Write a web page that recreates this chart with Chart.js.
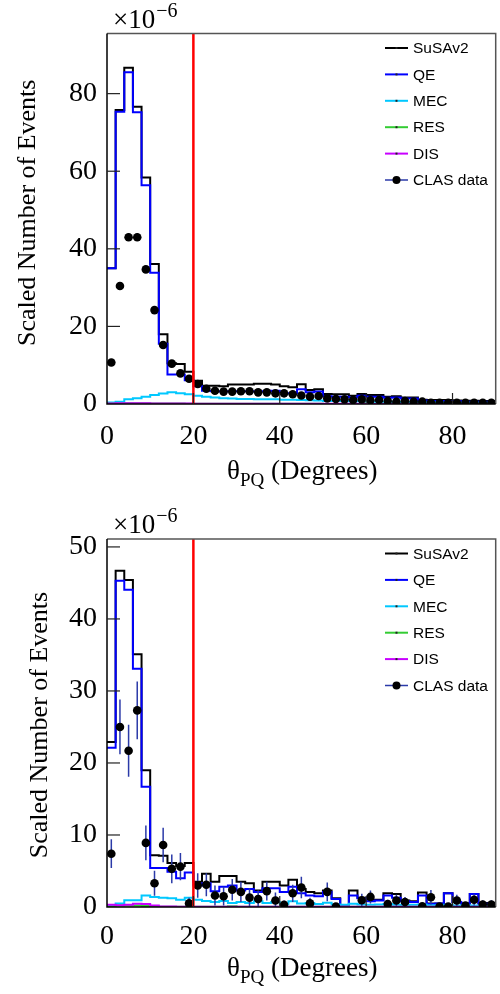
<!DOCTYPE html>
<html><head><meta charset="utf-8">
<script src="https://cdn.jsdelivr.net/npm/chart.js@4.4.1/dist/chart.umd.min.js"></script>
<style>
html,body{margin:0;padding:0;background:#fff;}
#wrap{position:relative;width:500px;height:994px;overflow:hidden;}
canvas{position:absolute;left:0;}
#c1{top:0;}
#c2{top:497px;}
</style></head><body>
<div id="wrap">
<canvas id="c1" width="500" height="497" style="width:500px;height:497px"></canvas>
<canvas id="c2" width="500" height="497" style="width:500px;height:497px"></canvas>
</div>
<script>
// ---- bins (theta_PQ, degrees) ----
const binEdges = [0,2,4,6,8,10,12,14,16,18,20,22,24,26,28,30,32,34,36,38,40,42,44,46,48,50,52,54,56,58,60,62,64,66,68,70,72,74,76,78,80,82,84,86,88,90];
const xTickLabels = [0,20,40,60,80];
const yTicksTop = [0,20,40,60,80];
const yTicksBottom = [0,10,20,30,40,50];
const cutTheta = 20;

// ---- top panel (x 1e-6) ----
const top_susav2 = [35.0,75.8,86.7,76.6,58.4,36.1,18.0,10.5,10.3,8.3,6.0,4.7,4.7,4.6,5.0,5.0,5.0,5.2,5.2,5.0,4.6,4.3,5.1,3.6,3.8,2.6,2.5,2.5,2.1,2.6,2.3,2.3,1.9,2.0,1.7,1.7,1.1,1.0,1.0,1.0,0.9,0.85,0.85,0.8,0.8];
const top_qe     = [35.0,75.3,85.5,75.2,56.4,33.8,15.5,7.6,7.6,6.1,4.6,3.4,3.3,3.2,3.3,3.3,3.3,3.2,3.3,3.4,2.8,2.8,3.8,3.0,3.2,2.0,1.9,1.9,1.7,2.1,1.9,1.9,1.6,1.7,1.4,1.4,0.9,0.8,0.8,0.8,0.7,0.6,0.6,0.6,0.6];
const top_mec    = [0.4,0.6,1.2,1.5,1.9,2.3,2.7,3.0,2.8,2.5,2.1,1.9,1.7,1.5,1.4,1.3,1.3,1.2,1.2,1.2,1.1,1.1,1.0,0.95,0.9,0.8,0.8,0.75,0.7,0.7,0.65,0.6,0.6,0.55,0.5,0.5,0.45,0.45,0.4,0.4,0.35,0.35,0.3,0.3,0.3];
const top_res    = [0.1,0.15,0.2,0.2,0.2,0.15,0.15,0.1,0.1,0.08,0.08,0.07,0.07,0.06,0.06,0.05,0.05,0.05,0.05,0.05,0.04,0.04,0.04,0.04,0.04,0.03,0.03,0.03,0.03,0.03,0.03,0.03,0.02,0.02,0.02,0.02,0.02,0.02,0.02,0.02,0.02,0.02,0.02,0.02,0.02];
const top_dis    = [0.15,0.2,0.2,0.2,0.2,0.15,0.15,0.1,0.1,0.1,0.08,0.08,0.07,0.07,0.06,0.06,0.06,0.05,0.05,0.05,0.05,0.05,0.05,0.04,0.04,0.04,0.04,0.04,0.04,0.03,0.03,0.03,0.03,0.03,0.03,0.03,0.03,0.03,0.02,0.02,0.02,0.02,0.02,0.02,0.02];
const top_data   = [10.7,30.4,43.0,43.0,34.7,24.2,15.2,10.4,7.9,6.5,5.15,3.95,3.4,3.2,3.2,3.3,3.3,3.0,3.0,2.75,2.75,2.5,2.2,1.9,2.06,1.46,1.3,1.2,1.03,1.2,0.95,1.03,0.77,0.6,0.77,0.6,0.6,0.34,0.34,0.34,0.34,0.32,0.32,0.3,0.3];
const top_dataErr= [0.6,0.9,1.0,1.0,0.9,0.8,0.6,0.5,0.45,0.4,0.35,0.3,0.3,0.3,0.3,0.3,0.3,0.3,0.3,0.3,0.3,0.25,0.25,0.25,0.25,0.2,0.2,0.2,0.2,0.2,0.2,0.2,0.2,0.15,0.15,0.15,0.15,0.15,0.15,0.15,0.15,0.15,0.15,0.15,0.15];

// ---- bottom panel (x 1e-6) ----
const bot_susav2 = [22.9,46.7,45.4,35.1,19.0,7.2,7.1,6.1,5.7,6.1,3.5,4.6,3.5,4.3,4.3,3.5,3.3,2.3,3.5,3.5,3.0,3.8,2.5,2.1,1.9,2.3,1.2,0.2,2.3,1.3,1.0,1.0,1.9,1.8,0.9,0.8,2.0,0.5,0.5,1.9,0.7,0.5,1.8,0.55,0.55];
const bot_qe     = [22.1,45.3,44.05,33.1,16.7,5.4,5.4,4.9,4.0,4.8,3.0,3.3,2.2,2.8,3.0,2.3,2.5,2.1,2.6,2.6,2.1,2.8,1.9,1.6,1.5,2.1,1.1,0.15,1.6,1.2,0.8,0.9,1.6,1.3,0.8,0.7,1.6,0.4,0.5,1.9,0.7,0.5,1.8,0.45,0.45];
const bot_mec    = [0.25,0.5,0.95,0.95,1.6,1.4,1.3,1.2,1.0,1.3,1.0,0.85,0.7,0.85,0.55,0.7,0.55,0.8,0.55,0.7,0.45,0.8,0.5,0.55,0.4,0.6,0.35,0.3,0.45,0.35,0.3,0.35,0.4,0.3,0.25,0.3,0.35,0.25,0.2,0.3,0.2,0.25,0.2,0.15,0.2];
const bot_res    = [0.05,0.2,0.2,0.2,0.15,0.1,0.05,0.05,0.03,0.03,0.03,0.03,0.03,0.03,0.12,0.03,0.03,0.02,0.02,0.02,0.02,0.02,0.02,0.02,0.02,0.02,0.02,0.02,0.02,0.02,0.02,0.02,0.02,0.02,0.02,0.02,0.02,0.02,0.02,0.02,0.02,0.02,0.02,0.02,0.02];
const bot_dis    = [0.3,0.25,0.3,0.45,0.4,0.2,0.08,0.06,0.05,0.05,0.05,0.05,0.05,0.05,0.05,0.05,0.04,0.04,0.04,0.04,0.04,0.04,0.04,0.04,0.04,0.03,0.03,0.03,0.03,0.03,0.03,0.03,0.03,0.03,0.03,0.03,0.03,0.03,0.03,0.03,0.03,0.03,0.03,0.03,0.03];
const bot_data   = [7.4,25.0,21.7,27.3,8.9,3.3,8.6,5.3,5.6,0.5,3.0,3.1,1.6,1.5,2.4,2.1,1.3,1.1,2.2,0.9,0.3,1.9,2.7,0.5,null,2.1,0.05,null,null,0.93,1.4,null,0.4,0.9,0.7,null,0.1,1.35,0.05,0.05,0.9,0.2,1.0,0.35,0.35];
const bot_dataErr= [2.0,3.8,3.6,4.0,2.4,1.75,2.4,2.0,1.9,0.8,1.7,1.6,1.4,1.3,1.5,1.4,1.3,1.2,1.3,1.1,0.6,1.2,1.5,0.8,0,1.3,0,0,0,0.9,0.9,0,0.6,0.8,0.7,0,0,1.0,0,0,0.8,0.5,0.8,0.6,0.6];

const COL = {susav2:'#000000', qe:'#0000ff', mec:'#00c8ff', res:'#33cc33', dis:'#c800ff', err:'#2b3aa8', cut:'#ff0000'};
const SERIF = '"Liberation Serif", "Times New Roman", serif';
const SANS = '"Liberation Sans", Arial, sans-serif';

function histPoints(vals){
  const pts = vals.map((v,i)=>({x:binEdges[i], y:v}));
  pts.push({x:binEdges[vals.length], y:vals[vals.length-1]});
  return pts;
}
function dataPoints(vals, errs){
  const pts=[];
  vals.forEach((v,i)=>{ if(v!==null) pts.push({x:(binEdges[i]+binEdges[i+1])/2, y:v, err:errs[i]}); });
  return pts;
}
function histDS(label, vals, color, order, width){
  return {type:'line', label, data:histPoints(vals), borderColor:color, backgroundColor:color,
          borderWidth:width, stepped:'before', pointRadius:0, fill:false, order, tension:0};
}

const extrasPlugin = {
  id:'extras',
  beforeDatasetDraw(chart, args, opts){
    const ds = chart.data.datasets[args.index];
    if(!ds.isData) return;
    const ctx = chart.ctx, xs = chart.scales.x, ys = chart.scales.y, ca = chart.chartArea;
    ctx.save();
    ctx.beginPath(); ctx.rect(ca.left, ca.top, ca.right-ca.left, ca.bottom-ca.top); ctx.clip();
    ctx.strokeStyle = COL.err; ctx.lineWidth = 1.5;
    ds.data.forEach(p=>{
      if(!p.err) return;
      const px = xs.getPixelForValue(p.x);
      ctx.beginPath();
      ctx.moveTo(px, ys.getPixelForValue(p.y - p.err));
      ctx.lineTo(px, ys.getPixelForValue(p.y + p.err));
      ctx.stroke();
    });
    ctx.restore();
  },
  afterDraw(chart, args, opts){
    const ctx = chart.ctx, xs = chart.scales.x, ys = chart.scales.y, ca = chart.chartArea;
    ctx.save();
    // frame
    ctx.lineWidth = 1.5; ctx.strokeStyle = '#555';
    ctx.beginPath(); ctx.moveTo(ca.left, ca.top); ctx.lineTo(ca.right, ca.top); ctx.lineTo(ca.right, ca.bottom); ctx.stroke();
    ctx.strokeStyle = '#000';
    ctx.beginPath(); ctx.moveTo(ca.left, ca.top); ctx.lineTo(ca.left, ca.bottom); ctx.lineTo(ca.right, ca.bottom); ctx.stroke();
    // inner ticks
    ctx.lineWidth = 1.2; ctx.strokeStyle = '#222';
    ys.ticks.forEach(t=>{ if(t.value<=0) return; const py = ys.getPixelForValue(t.value);
      ctx.beginPath(); ctx.moveTo(ca.left, py); ctx.lineTo(ca.left+13, py); ctx.stroke(); });
    xs.ticks.forEach(t=>{ if(t.value<=0) return; const px = xs.getPixelForValue(t.value);
      ctx.beginPath(); ctx.moveTo(px, ca.bottom); ctx.lineTo(px, ca.bottom-11); ctx.stroke(); });

    // exponent label
    ctx.fillStyle = '#000'; ctx.textBaseline = 'alphabetic'; ctx.textAlign = 'left';
    ctx.font = '27px ' + SERIF;
    const ex = ca.left + 6, ey = ca.top - 6;
    ctx.fillText('\u00d710', ex, ey);
    const w10 = ctx.measureText('\u00d710').width;
    ctx.font = '20px ' + SERIF;
    ctx.fillText('\u22126', ex + w10 + 1, ey - 11);

    // y title
    ctx.save();
    ctx.font = '26px ' + SERIF;
    ctx.translate(opts.yTitleX, (ca.top+ca.bottom)/2 + opts.yTitleDy);
    ctx.rotate(-Math.PI/2);
    ctx.textAlign = 'center'; ctx.textBaseline = 'middle';
    ctx.fillText('Scaled Number of Events', 0, 0);
    ctx.restore();

    // x title: theta_PQ (Degrees)
    ctx.font = '27px ' + SERIF; ctx.textAlign='left'; ctx.textBaseline='alphabetic';
    const tb = opts.xTitleBase;
    let tx = 227;
    ctx.fillText('\u03b8', tx, tb); tx += ctx.measureText('\u03b8').width;
    ctx.font = '19px ' + SERIF;
    ctx.fillText('PQ', tx, tb + 7); tx += ctx.measureText('PQ').width;
    ctx.font = '27px ' + SERIF;
    ctx.fillText(' (Degrees)', tx, tb);

    // legend
    ctx.font = '15.5px ' + SANS; ctx.textBaseline = 'middle'; ctx.textAlign='left';
    const items = chart.data.datasets.filter(d=>d.inLegend).sort((a,b)=>a.legendIdx-b.legendIdx);
    items.forEach((d,i)=>{
      const y = ca.top + 14.5 + i*26.4;
      const x0 = 385, x1 = 408;
      ctx.lineWidth = d.isData ? 1.5 : 2;
      ctx.strokeStyle = d.isData ? COL.err : d.borderColor;
      ctx.beginPath(); ctx.moveTo(x0, y); ctx.lineTo(x1, y); ctx.stroke();
      if(d.isData){
        ctx.fillStyle='#000'; ctx.beginPath(); ctx.arc((x0+x1)/2, y, 4, 0, Math.PI*2); ctx.fill();
      } else {
        ctx.fillStyle='#222'; ctx.fillRect((x0+x1)/2-1, y-1, 2, 2);
      }
      ctx.fillStyle='#000';
      ctx.fillText(d.label, 413, y+1);
    });
    ctx.restore();
  }
};

function buildChart(canvasId, cfg){
  const datasets = [
    Object.assign(histDS('SuSAv2', cfg.susav2, COL.susav2, 7, 2), {inLegend:true, legendIdx:0}),
    Object.assign(histDS('QE', cfg.qe, COL.qe, 6, 2), {inLegend:true, legendIdx:1}),
    Object.assign(histDS('MEC', cfg.mec, COL.mec, 5, 2), {inLegend:true, legendIdx:2}),
    Object.assign(histDS('RES', cfg.res, COL.res, 4, 2), {inLegend:true, legendIdx:3}),
    Object.assign(histDS('DIS', cfg.dis, COL.dis, 3, 2), {inLegend:true, legendIdx:4}),
    {type:'scatter', label:'CLAS data', data:dataPoints(cfg.data, cfg.err), showLine:false,
     pointRadius:4.3, pointBackgroundColor:'#000', pointBorderColor:'#000', pointBorderWidth:0,
     order:2, isData:true, inLegend:true, legendIdx:5},
    {type:'line', label:'cut', data:[{x:cutTheta, y:0},{x:cutTheta, y:cfg.ymax}], borderColor:COL.cut,
     borderWidth:2.5, pointRadius:0, order:1, fill:false}
  ];
  return new Chart(document.getElementById(canvasId), {
    type:'line',
    data:{datasets},
    options:{
      responsive:false, animation:false, events:[],
      layout:{padding:{top:cfg.padTop, right:3, left:0, bottom:0}},
      plugins:{legend:{display:false}, tooltip:{enabled:false},
               extras:{yTitleX:cfg.yTitleX, yTitleDy:cfg.yTitleDy, xTitleBase:cfg.xTitleBase}},
      scales:{
        x:{type:'linear', min:0, max:90,
           afterFit(s){ s.height = cfg.xAxisH; },
           afterBuildTicks(s){ s.ticks = xTickLabels.map(v=>({value:v})); },
           grid:{display:false, drawTicks:false}, border:{display:false},
           ticks:{font:{family:SERIF, size:28}, color:'#000', padding:cfg.xPad, maxRotation:0, autoSkip:false}},
        y:{type:'linear', min:0, max:cfg.ymax,
           afterFit(s){ s.width = 107; },
           afterBuildTicks(s){ s.ticks = cfg.yTicks.map(v=>({value:v})); },
           grid:{display:false, drawTicks:false}, border:{display:false},
           ticks:{font:{family:SERIF, size:28}, color:'#000', padding:10, autoSkip:false}}
      }
    },
    plugins:[extrasPlugin]
  });
}

buildChart('c1', {susav2:top_susav2, qe:top_qe, mec:top_mec, res:top_res, dis:top_dis,
  data:top_data, err:top_dataErr, ymax:95.5, yTicks:yTicksTop,
  padTop:33.5, xAxisH:93, xPad:16, yTitleX:28, yTitleDy:-6, xTitleBase:479});
buildChart('c2', {susav2:bot_susav2, qe:bot_qe, mec:bot_mec, res:bot_res, dis:bot_dis,
  data:bot_data, err:bot_dataErr, ymax:51.1, yTicks:yTicksBottom,
  padTop:42, xAxisH:87, xPad:13, yTitleX:40, yTitleDy:2, xTitleBase:479});
</script>
</body></html>
